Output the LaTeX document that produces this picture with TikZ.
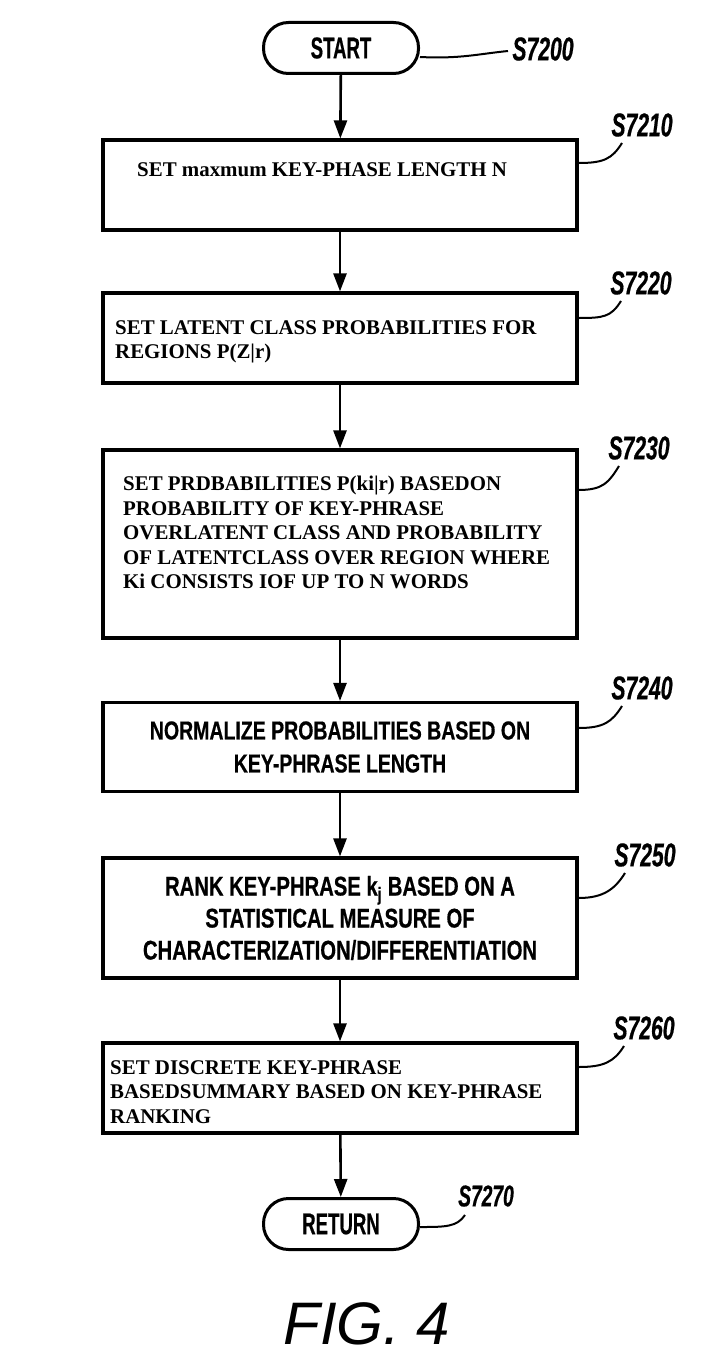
\documentclass[tikz,border=0pt]{standalone}
\usepackage{fontspec}
\setmainfont{Liberation Serif}
\newfontfamily\condsans[FakeStretch=0.75,FakeBold=0.5]{Liberation Sans}
\newfontfamily\termsans[FakeStretch=0.62,FakeBold=0.5]{Liberation Sans}
\newfontfamily\tagsans[FakeStretch=0.64,FakeBold=0.5]{Liberation Sans}
\newfontfamily\figsans{Liberation Sans}
\usetikzlibrary{arrows.meta}
\usetikzlibrary{calc}

\begin{document}
\begin{tikzpicture}[x=1pt, y=-1pt,
    stepbox/.style={draw=black, line width=3.2pt, minimum width=474pt, inner sep=0pt},
    termbox/.style={draw=black, line width=3pt, rounded corners=25pt, minimum width=155pt, minimum height=51pt, font=\termsans\bfseries\fontsize{30}{30}\selectfont},
    seriftext/.style={align=left, inner sep=0pt, font=\bfseries\fontsize{20.9}{24.5}\selectfont},
    sanstext/.style={align=center, font=\condsans\bfseries\fontsize{26}{33}\selectfont},
    steplabel/.style={inner sep=0pt, font=\tagsans\bfseries\itshape\fontsize{33}{33}\selectfont},
    flow/.style={line width=2.6pt, -{Triangle[length=18pt,width=13pt]}},
    leader/.style={line width=2pt}]
    \useasboundingbox (0,0) rectangle (702,1370);

    % terminals and steps
    \node[termbox] (start) at (341,48) {START};
    \node[stepbox, minimum height=90pt] (s7210) at (340,185) {};
    \node[stepbox, minimum height=90pt] (s7220) at (340,338) {};
    \node[stepbox, minimum height=188pt] (s7230) at (340,544) {};
    \node[stepbox, sanstext, minimum height=89pt] (s7240) at (340,747) {NORMALIZE PROBABILITIES BASED ON\\KEY-PHRASE LENGTH};
    \node[stepbox, sanstext, font=\condsans\bfseries\fontsize{27}{32}\selectfont, minimum height=120pt] (s7250) at (340,918) {RANK KEY-PHRASE k\textsubscript{j} BASED ON A\\STATISTICAL MEASURE OF\\CHARACTERIZATION/DIFFERENTIATION};
    \node[stepbox, minimum height=90pt] (s7260) at (340,1088) {};
    \node[termbox] (ret) at (341,1224) {RETURN};

    % texts of the plain boxes
    \node[seriftext, anchor=west] (t7210) at (137,170) {SET maxmum KEY-PHASE LENGTH N};
    \node[seriftext, anchor=north west] (t7220) at (115,320) {SET LATENT CLASS PROBABILITIES FOR\\REGIONS P(Z|r)};
    \node[seriftext, anchor=north west] (t7230) at (123,476) {SET PRDBABILITIES P(ki|r) BASEDON\\PROBABILITY OF KEY-PHRASE\\OVERLATENT CLASS AND PROBABILITY\\OF LATENTCLASS OVER REGION WHERE\\Ki CONSISTS IOF UP TO N WORDS};
    \node[seriftext, anchor=north west] (t7260) at (110,1060) {SET DISCRETE KEY-PHRASE\\BASEDSUMMARY BASED ON KEY-PHRASE\\RANKING};

    % step numbers
    \node[steplabel] (l7200) at (543,49) {S7200};
    \node[steplabel] (l7210) at (642,125) {S7210};
    \node[steplabel] (l7220) at (641,283) {S7220};
    \node[steplabel] (l7230) at (639,448) {S7230};
    \node[steplabel] (l7240) at (642,688) {S7240};
    \node[steplabel] (l7250) at (645,855) {S7250};
    \node[steplabel] (l7260) at (644,1028) {S7260};
    \node[steplabel, font=\tagsans\bfseries\itshape\fontsize{30}{30}\selectfont] (l7270) at (486,1196) {S7270};

    \node[font=\figsans\itshape\fontsize{60}{60}\selectfont] (fig) at (367,1324) {FIG. 4};

    % arrows
    \draw[flow] (start) -- (s7210);
    \draw[flow] (s7210) -- (s7220);
    \draw[flow] (s7220) -- (s7230);
    \draw[flow] (s7230) -- (s7240);
    \draw[flow] (s7240) -- (s7250);
    \draw[flow] (s7250) -- (s7260);
    \draw[flow] (s7260) -- (ret);

    % leaders
    \draw[leader] ($(start.east)+(0,9)$) .. controls +(40,2) and +(-30,3) .. ($(l7200)+(-35,2)$);
    \foreach \s/\d in {7210/22,7220/20,7230/54,7240/19,7250/20,7260/21}
        \draw[leader] ($(s\s.east)+(0,-\d)$) .. controls +(25,0) and +(-10,16) .. ($(l\s)+(-20,18)$);
    \draw[leader] ($(ret.east)+(0,3)$) .. controls +(25,0) and +(-8,12) .. ($(l7270)+(-21,19)$);
\end{tikzpicture}
\end{document}
